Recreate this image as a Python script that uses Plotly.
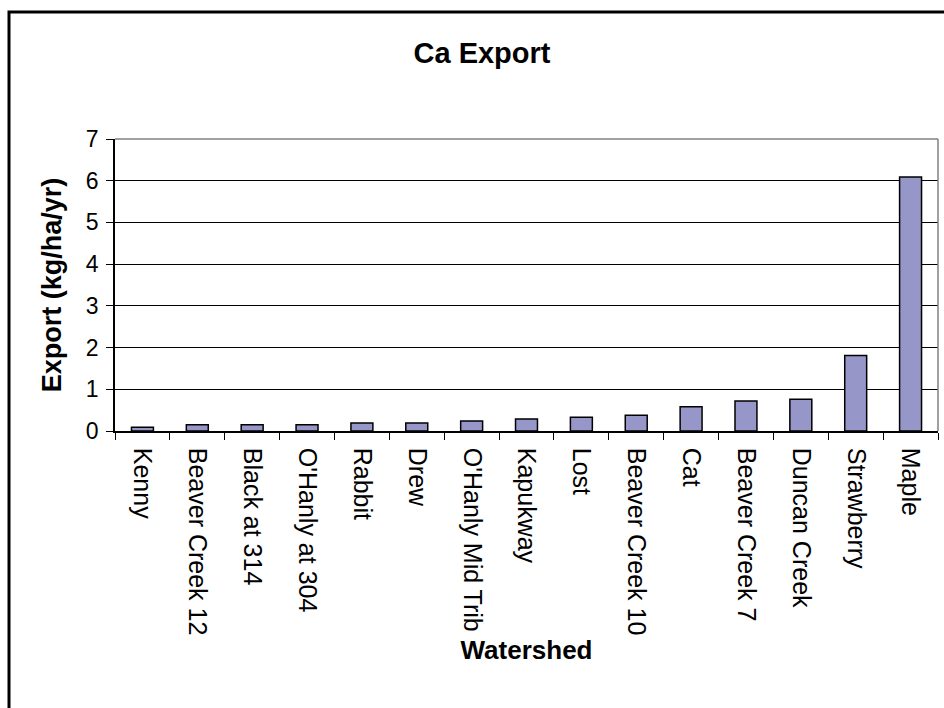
import plotly.graph_objects as go

# Calcium export by watershed, sorted ascending
watersheds = [
    "Kenny", "Beaver Creek 12", "Black at 314", "O'Hanly at 304", "Rabbit",
    "Drew", "O'Hanly Mid Trib", "Kapukway", "Lost", "Beaver Creek 10",
    "Cat", "Beaver Creek 7", "Duncan Creek", "Strawberry", "Maple",
]
ca_export = [
    0.09, 0.15, 0.15, 0.15, 0.19,
    0.19, 0.24, 0.29, 0.33, 0.38,
    0.58, 0.72, 0.76, 1.81, 6.09,
]
y_ticks = [0, 1, 2, 3, 4, 5, 6, 7]

FONT = "Arial, Liberation Sans, sans-serif"

fig = go.Figure(
    go.Bar(
        x=watersheds,
        y=ca_export,
        marker=dict(color="#9696C8", line=dict(color="black", width=1.5)),
    )
)

fig.update_layout(
    width=944,
    height=708,
    margin=dict(l=115, r=6, t=139, b=277),
    paper_bgcolor="white",
    plot_bgcolor="white",
    bargap=0.6,
    showlegend=False,
    font=dict(family=FONT, color="black", size=24),
    title=dict(
        text="<b>Ca Export</b>",
        font=dict(family=FONT, size=29, color="black"),
        x=482 / 944,
        xref="container",
        xanchor="center",
        y=1 - 53 / 708,
        yref="container",
        yanchor="middle",
    ),
    shapes=[
        # grey frame on the top and right of the plot area
        dict(type="line", xref="paper", yref="paper", x0=0, x1=1, y0=1, y1=1,
             line=dict(color="#808080", width=1.5), layer="above"),
        dict(type="line", xref="paper", yref="paper", x0=1, x1=1, y0=0, y1=1,
             line=dict(color="#808080", width=1.5), layer="above"),
        # chart border
        dict(type="rect", xref="paper", yref="paper",
             x0=(9 - 115) / 823, x1=(950 - 115) / 823,
             y0=(431 - 715) / 292, y1=(431 - 12) / 292,
             line=dict(color="black", width=3), layer="below"),
    ],
)

fig.update_xaxes(
    type="category",
    tickson="boundaries",
    ticks="outside",
    ticklen=7,
    tickcolor="black",
    tickangle=90,
    ticklabelstandoff=10,
    tickfont=dict(family=FONT, size=25, color="black"),
    showline=True,
    linecolor="black",
    linewidth=1.5,
    showgrid=False,
    title=dict(text="<b>Watershed</b>", font=dict(family=FONT, size=26, color="black"), standoff=6),
)

fig.update_yaxes(
    range=[0, 7],
    tickvals=y_ticks,
    ticks="outside",
    ticklen=7,
    tickcolor="black",
    ticklabelstandoff=3,
    tickfont=dict(family=FONT, size=23, color="black"),
    showline=True,
    linecolor="black",
    linewidth=1.5,
    showgrid=True,
    gridcolor="black",
    gridwidth=1,
    zeroline=False,
    title=dict(text="<b>Export (kg/ha/yr)</b>", font=dict(family=FONT, size=27, color="black"), standoff=16),
)

fig.write_html("out.html")
